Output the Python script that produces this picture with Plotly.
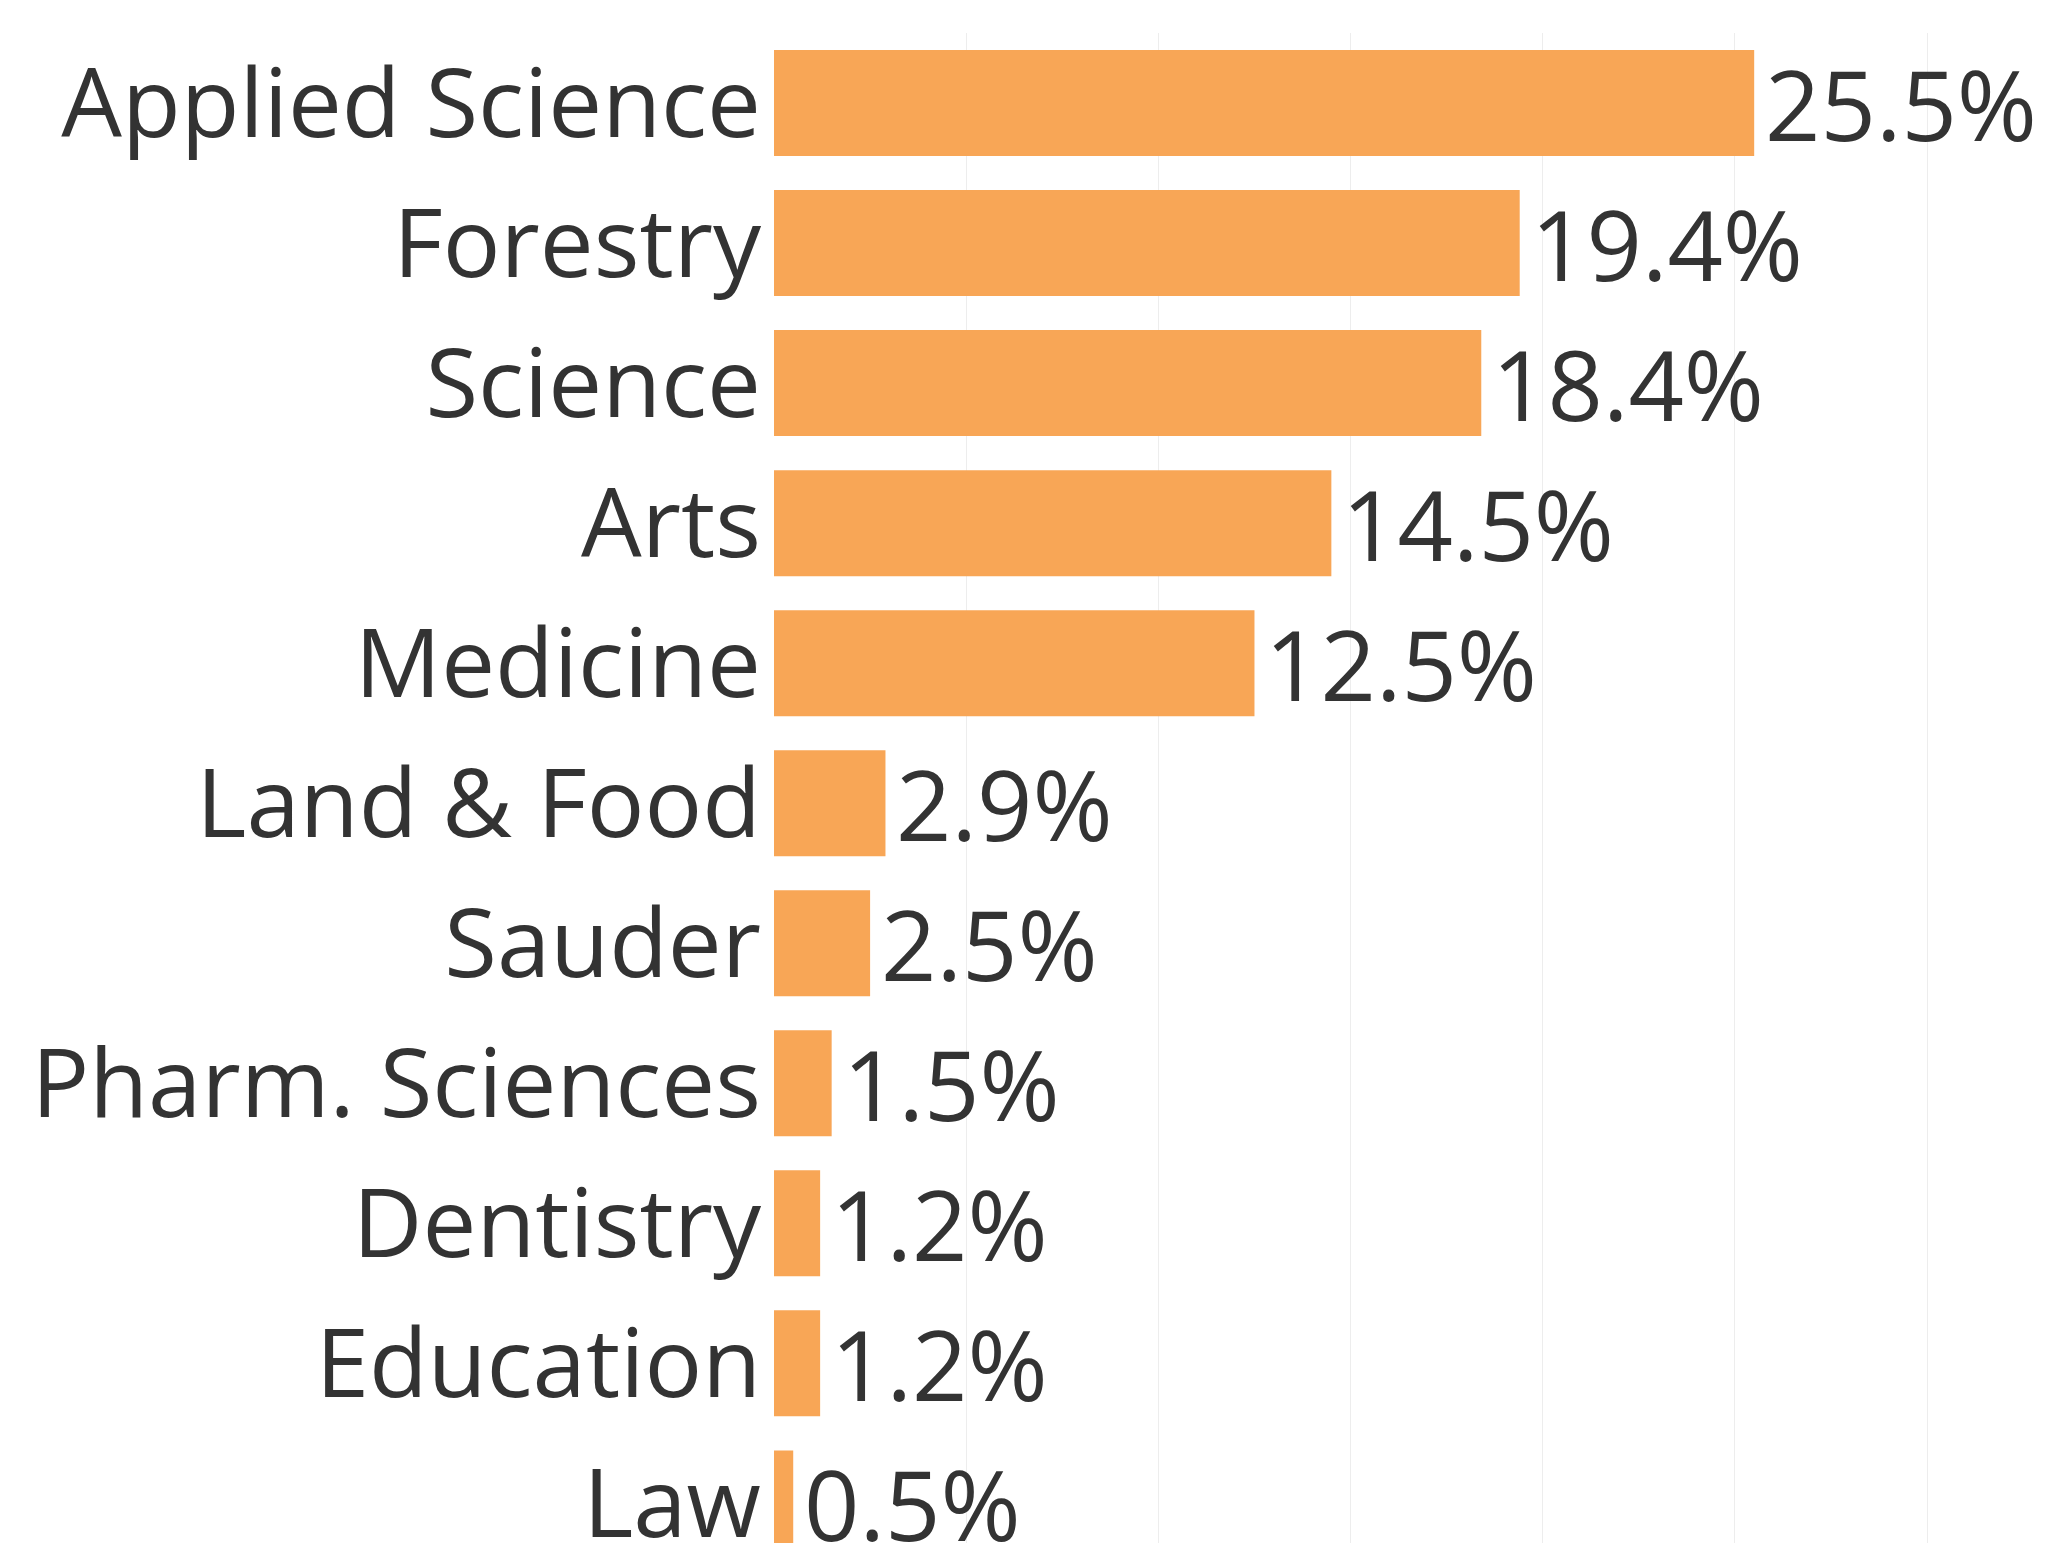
import plotly.graph_objects as go

categories = ["Applied Science", "Forestry", "Science", "Arts", "Medicine",
              "Land & Food", "Sauder", "Pharm. Sciences", "Dentistry",
              "Education", "Law"]
values = [25.5, 19.4, 18.4, 14.5, 12.5, 2.9, 2.5, 1.5, 1.2, 1.2, 0.5]
value_labels = ["25.5%", "19.4%", "18.4%", "14.5%", "12.5%", "2.9%", "2.5%",
                "1.5%", "1.2%", "1.2%", "0.5%"]

FONT = "Open Sans"
TXT = "#333333"
SIZE = 96

fig = go.Figure(go.Bar(
    x=values, y=categories, orientation="h",
    marker=dict(color="#F8A656", line=dict(width=0)),
    hoverinfo="skip",
))

for c, v, t in zip(categories, values, value_labels):
    fig.add_annotation(x=v, y=c, text=t, showarrow=False, xanchor="left",
                       yanchor="middle", xshift=9,
                       font=dict(family=FONT, size=SIZE + 1, color=TXT))

fig.update_layout(
    width=2046, height=1543,
    margin=dict(l=766, r=0, t=25, b=0),
    plot_bgcolor="white", paper_bgcolor="white",
    bargap=0.243, showlegend=False,
    font=dict(family=FONT, color=TXT),
)
fig.update_xaxes(range=[0, 33.3], tickvals=[0, 5, 10, 15, 20, 25, 30],
                 showticklabels=False, showgrid=True, gridcolor="#EDEDED",
                 gridwidth=1, zeroline=False, showline=False, fixedrange=True)
fig.update_yaxes(categoryorder="array", categoryarray=categories,
                 range=[10.34, -0.5], showgrid=False, zeroline=False,
                 showline=False, ticks="", ticklabelstandoff=12,
                 tickfont=dict(family=FONT, size=SIZE, color=TXT),
                 automargin=False)

fig.write_html("out.html")
